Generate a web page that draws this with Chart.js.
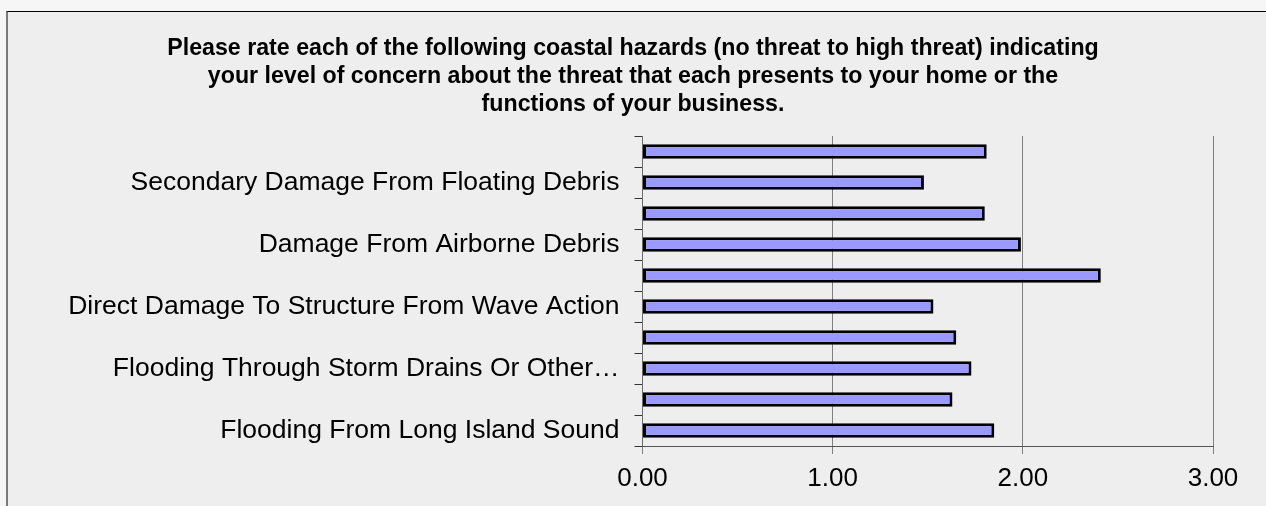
<!DOCTYPE html>
<html>
<head>
<meta charset="utf-8">
<script src="https://cdn.jsdelivr.net/npm/chart.js@4/dist/chart.umd.min.js"></script>
<style>
  html, body { margin: 0; padding: 0; background: #f6f6f6; width: 1266px; height: 506px; overflow: hidden; }
  #frame { position: absolute; left: 6px; top: 11px; width: 1300px; height: 520px;
           background: #eeeeee; border-top: 1px solid #000; border-left: 2px solid #7a7a7a; }
  #wrap { position: absolute; left: 0; top: 0; width: 1266px; height: 506px; }
</style>
</head>
<body>
<div id="frame"></div>
<div id="wrap"><canvas id="c" width="1266" height="506"></canvas></div>
<script>
// Categories listed top to bottom (hidden labels were skipped in the original)
const categories = [
  "",
  "Secondary Damage From Floating Debris",
  "",
  "Damage From Airborne Debris",
  "",
  "Direct Damage To Structure From Wave Action",
  "",
  "Flooding Through Storm Drains Or Other…",
  "",
  "Flooding From Long Island Sound"
];
const ratings = [1.81, 1.48, 1.80, 1.99, 2.41, 1.53, 1.65, 1.73, 1.63, 1.85];
const xTicks = [0, 1, 2, 3];
const titleLines = [
  "Please rate each of the following coastal hazards (no threat to high threat) indicating",
  "your level of concern about the threat that each presents to your home or the",
  "functions of your business."
];

new Chart(document.getElementById('c'), {
  type: 'bar',
  data: {
    labels: categories,
    datasets: [{
      data: ratings,
      backgroundColor: '#9999ff',
      borderColor: '#000000',
      borderWidth: 3,
      borderSkipped: false,
      categoryPercentage: 1.0,
      barPercentage: 0.46
    }]
  },
  options: {
    indexAxis: 'y',
    responsive: false,
    animation: false,
    devicePixelRatio: 1,
    layout: { padding: { left: 53, right: 53, top: 0, bottom: 0 } },
    plugins: {
      legend: { display: false },
      tooltip: { enabled: false },
      title: {
        display: true,
        text: titleLines,
        color: '#000',
        font: { family: 'Liberation Sans, Arial, sans-serif', size: 23.2, weight: 'bold', lineHeight: '28px' },
        padding: { top: 35, bottom: 17 }
      }
    },
    scales: {
      y: {
        type: 'category',
        afterFit: (s) => { s.width = 589.5; },
        grid: {
          display: true,
          drawOnChartArea: false,
          drawTicks: true,
          tickLength: 8,
          color: '#333333',
          offset: true
        },
        border: { display: true, color: '#6a6a6a', width: 1 },
        ticks: {
          autoSkip: false,
          color: '#000',
          padding: 15,
          font: { family: 'Liberation Sans, Arial, sans-serif', size: 26.5 }
        }
      },
      x: {
        type: 'linear',
        min: 0,
        max: 3,
        afterFit: (s) => { s.height = 60; },
        afterBuildTicks: (s) => { s.ticks = xTicks.map(v => ({ value: v })); },
        grid: {
          display: true,
          drawOnChartArea: true,
          drawTicks: true,
          tickLength: 8,
          color: '#7f7f7f',
          lineWidth: 1
        },
        border: { display: true, color: '#555555', width: 1 },
        ticks: {
          color: '#000',
          padding: 9,
          font: { family: 'Liberation Sans, Arial, sans-serif', size: 26 },
          callback: (v) => Number(v).toFixed(2)
        }
      }
    }
  }
});
</script>
</body>
</html>
